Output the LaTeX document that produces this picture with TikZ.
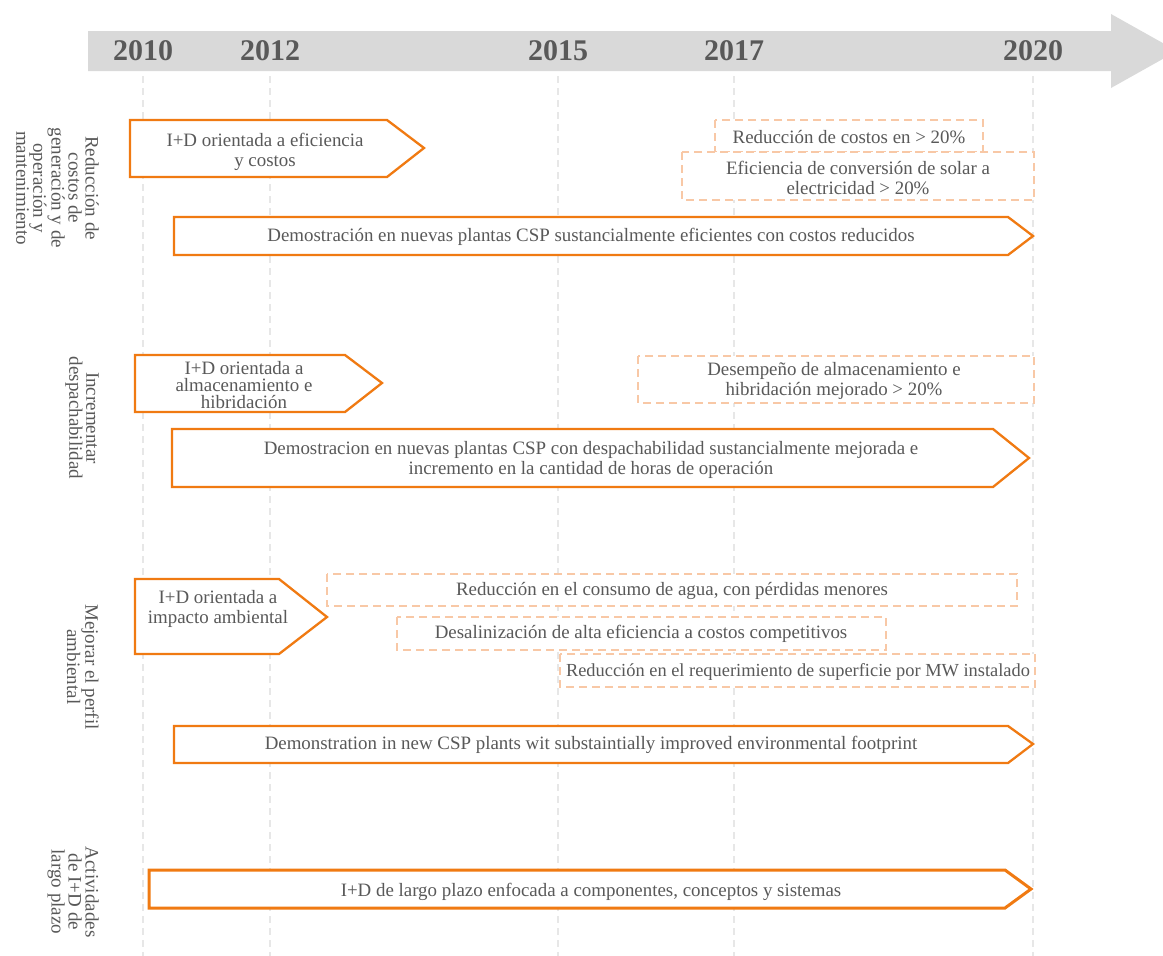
\documentclass[tikz,border=0pt]{standalone}
\usepackage{fontspec}
\setmainfont{Liberation Serif}
\definecolor{orng}{HTML}{F07A12}
\definecolor{peach}{HTML}{F8C8A6}
\definecolor{txtgray}{HTML}{595959}
\definecolor{band}{HTML}{D9D9D9}
\definecolor{gridc}{HTML}{E7E7E7}
\begin{document}
\begin{tikzpicture}[x=1pt,y=-1pt,
  solidbox/.style={draw=orng, line width=2.3pt, fill=white, line join=miter},
  thickbox/.style={solidbox, line width=3pt},
  dashbox/.style={draw=peach, line width=2.8pt, fill=white, dash pattern=on 8pt off 5pt},
  gridline/.style={draw=gridc, line width=2.5pt, dash pattern=on 7pt off 5pt},
  txt/.style={text=txtgray, font=\fontsize{18.9}{20}\selectfont, align=center, inner sep=0pt},
  tighttxt/.style={txt, font=\fontsize{18.9}{17}\selectfont},
  smalltxt/.style={txt, font=\fontsize{18.4}{20}\selectfont},
  rowlabel/.style={text=txtgray, font=\fontsize{19}{17}\selectfont, align=center, inner sep=0pt, rotate=-90, anchor=north},
  year/.style={text=txtgray, font=\bfseries\fontsize{30}{30}\selectfont, inner sep=0pt}
]
\clip (0,0) rectangle (1163,956);
\fill[white] (0,0) rectangle (1163,956);
% timeline band
\fill[band] (88,31) -- (1111,31) -- (1111,14) -- (1177,51) -- (1111,88) -- (1111,71) -- (88,71) -- cycle;
\node[year] (y2010) at (143,51) {2010};
\node[year] (y2012) at (270,51) {2012};
\node[year] (y2015) at (558,51) {2015};
\node[year] (y2017) at (734,51) {2017};
\node[year] (y2020) at (1033,51) {2020};
\coordinate (gtop) at (0,76);
\coordinate (gbot) at (0,956);
\foreach \yr in {y2010,y2012,y2015,y2017,y2020}
  \draw[gridline] (\yr |- gtop) -- (\yr |- gbot);

% row labels
\node[rowlabel] (lab1) at (99,188) {Reducción de\\costos de\\generación y de\\operación y\\mantenimiento};
\node[rowlabel] (lab2) at (99,418) {Incrementar\\despachabilidad};
\node[rowlabel] (lab3) at (99,667) {Mejorar el perfil\\ambiental};
\node[rowlabel] (lab4) at (99,892) {Actividades\\de I+D de\\largo plazo};

% row 1
\draw[solidbox] (130,120) -- (387,120) -- (424,148) -- (387,177) -- (130,177) -- cycle;
\node[txt] (t11) at (265,152) {I+D orientada a eficiencia\\y costos};
\draw[dashbox] (715,120) rectangle (983,152);
\node[txt] (t12) at (849,137) {Reducción de costos en > 20\%};
\draw[dashbox] (682,152) rectangle (1034,200);
\node[txt] (t13) at (858,178) {Eficiencia de conversión de solar a\\electricidad > 20\%};
\draw[solidbox] (174,217) -- (1008,217) -- (1033,236) -- (1008,255) -- (174,255) -- cycle;
\node[txt] (t14) at (591,237) {Demostración en nuevas plantas CSP sustancialmente eficientes con costos reducidos};

% row 2
\draw[solidbox] (135,355) -- (345,355) -- (382,383) -- (345,412) -- (135,412) -- cycle;
\node[tighttxt] (t21) at (244,385) {I+D orientada a\\almacenamiento e\\hibridación};
\draw[dashbox] (638,356) rectangle (1034,403);
\node[txt] (t22) at (834,381) {Desempeño de almacenamiento e\\hibridación mejorado > 20\%};
\draw[solidbox] (172,429) -- (993,429) -- (1029,458) -- (993,487) -- (172,487) -- cycle;
\node[txt] (t23) at (591,460) {Demostracion en nuevas plantas CSP con despachabilidad sustancialmente mejorada e\\incremento en la cantidad de horas de operación};

% row 3
\draw[solidbox] (135,579) -- (279,579) -- (327,617) -- (279,654) -- (135,654) -- cycle;
\node[txt] (t31) at (218,609) {I+D orientada a\\impacto ambiental};
\draw[dashbox] (327,574) rectangle (1017,606);
\node[txt] (t32) at (672,591) {Reducción en el consumo de agua, con pérdidas menores};
\draw[dashbox] (397,617) rectangle (886,650);
\node[txt] (t33) at (641,634) {Desalinización de alta eficiencia a costos competitivos};
\draw[dashbox] (560,654) rectangle (1035,687);
\node[smalltxt] (t34) at (798,672) {Reducción en el requerimiento de superficie por MW instalado};
\draw[solidbox] (174,726) -- (1008,726) -- (1033,744) -- (1008,763) -- (174,763) -- cycle;
\node[txt] (t35) at (591,745) {Demonstration in new CSP plants wit substaintially improved environmental footprint};

% row 4
\draw[thickbox] (149,870) -- (1005,870) -- (1031,889) -- (1005,908) -- (149,908) -- cycle;
\node[txt] (t41) at (591,892) {I+D de largo plazo enfocada a componentes, conceptos y sistemas};
\end{tikzpicture}
\end{document}
